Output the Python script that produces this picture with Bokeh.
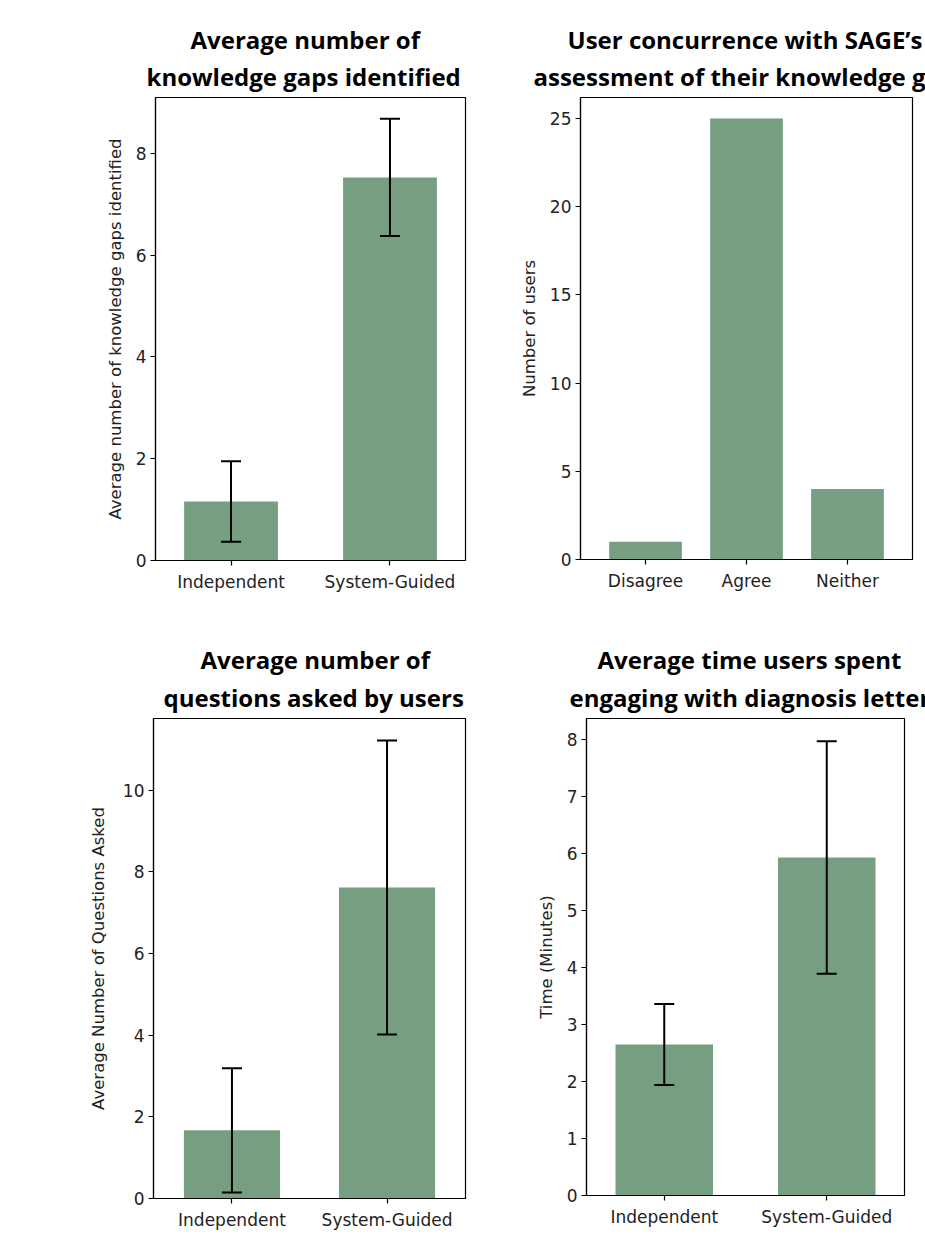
from bokeh.plotting import figure
from bokeh.models import FactorRange, Range1d, FixedTicker, Whisker, TeeHead, ColumnDataSource, Title
from bokeh.layouts import column, row
from bokeh.embed import file_html
from bokeh.resources import INLINE

# ---------------- data ----------------
groups = ["Independent", "System-Guided"]

gaps_mean = [1.16, 7.53]
gaps_err = [0.79, 1.15]
gaps_ticks = [0, 2, 4, 6, 8]

concur_cats = ["Disagree", "Agree", "Neither"]
concur_counts = [1, 25, 4]
concur_ticks = [0, 5, 10, 15, 20, 25]

questions_mean = [1.67, 7.62]
questions_err = [1.52, 3.60]
questions_ticks = [0, 2, 4, 6, 8, 10]

time_mean = [2.65, 5.93]
time_err = [0.71, 2.04]
time_ticks = [0, 1, 2, 3, 4, 5, 6, 7, 8]

BAR = "#769e81"
TXT = "#222222"
TICK_FONT = "DejaVu Sans"
TITLE_FONT = "Open Sans"


def panel(cats, vals, errs, ticks, ymax, t1, t2, ylabel, fw, fh, bl, br, bt, bb,
          pad, bw, off1, off2, st2, ylstand=8):
    p = figure(x_range=FactorRange(factors=cats, range_padding=pad,
                                   range_padding_units="absolute"),
               y_range=Range1d(0, ymax), frame_width=fw, frame_height=fh,
               min_border_left=bl, min_border_right=br, min_border_top=bt,
               min_border_bottom=bb, toolbar_location=None, output_backend="svg")
    src = dict(x=cats, top=vals)
    if errs is not None:
        src["lower"] = [v - e for v, e in zip(vals, errs)]
        src["upper"] = [v + e for v, e in zip(vals, errs)]
    src = ColumnDataSource(src)
    p.vbar(x="x", top="top", width=bw, source=src, fill_color=BAR, line_color=None)
    if errs is not None:
        w = Whisker(base="x", lower="lower", upper="upper", source=src,
                    line_color="black", line_width=2, level="overlay",
                    upper_head=TeeHead(size=20, line_width=2, line_color="black"),
                    lower_head=TeeHead(size=20, line_width=2, line_color="black"))
        p.add_layout(w)
    p.xgrid.visible = False
    p.ygrid.visible = False
    p.outline_line_color = "black"
    p.outline_line_width = 1.2
    p.yaxis.ticker = FixedTicker(ticks=ticks)
    p.yaxis.axis_label = ylabel
    for ax in (p.xaxis[0], p.yaxis[0]):
        ax.axis_line_color = "black"
        ax.axis_line_width = 1.2
        ax.major_tick_in = 0
        ax.major_tick_out = 5
        ax.major_tick_line_color = "black"
        ax.major_tick_line_width = 1.2
        ax.minor_tick_line_color = None
        ax.major_label_text_font = TICK_FONT
        ax.major_label_text_font_size = "17px"
        ax.major_label_text_color = TXT
        ax.axis_label_text_font = TICK_FONT
        ax.axis_label_text_font_size = "16.5px"
        ax.axis_label_text_font_style = "normal"
        ax.axis_label_text_color = TXT
    p.xaxis.major_label_standoff = 6
    p.yaxis.major_label_standoff = 4
    p.yaxis.axis_label_standoff = ylstand
    p.add_layout(Title(text=t2, align="left", text_font=TITLE_FONT,
                       text_font_size="24px", text_font_style="bold",
                       text_line_height=1.0,
                       text_color="black", standoff=st2, offset=off2), "above")
    p.add_layout(Title(text=t1, align="left", text_font=TITLE_FONT,
                       text_font_size="24px", text_font_style="bold",
                       text_line_height=1.0,
                       text_color="black", standoff=-5, offset=off1), "above")
    return p


p1 = panel(groups, gaps_mean, gaps_err, gaps_ticks, 9.10,
           "Average number of", "knowledge gaps identified",
           "Average number of knowledge gaps identified",
           310, 463, 155, 45, 96, 60, -0.025, 0.59, 35, -9, 9)
p2 = panel(concur_cats, concur_counts, None, concur_ticks, 26.19,
           "User concurrence with SAGE\u2019s", "assessment of their knowledge gaps",
           "Number of users",
           332, 462, 70, 13, 97, 60, 0.144, 0.72, -13, -47, 9)
p3 = panel(groups, questions_mean, questions_err, questions_ticks, 11.76,
           "Average number of", "questions asked by users",
           "Average Number of Questions Asked",
           312, 480, 153, 45, 96, 42, 0.006, 0.62, 47, 10, 10, 12)
p4 = panel(groups, time_mean, time_err, time_ticks, 8.37,
           "Average time users spent", "engaging with diagnosis letters",
           "Time (Minutes)",
           318, 477, 76, 21, 99, 42, -0.0215, 0.60, 11, -17, 10)

layout = column(row(p1, p2), row(p3, p4))
open("out.html", "w").write(file_html(layout, INLINE))
